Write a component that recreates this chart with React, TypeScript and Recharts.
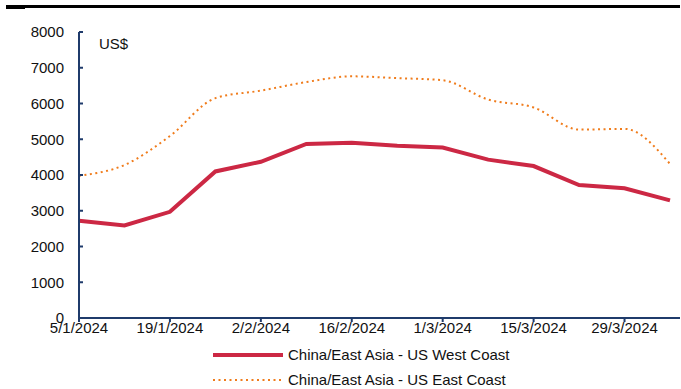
import React from 'react';
import { LineChart, Line, XAxis, YAxis, Legend } from 'recharts';

// weekly readings, Jan–Apr 2024
const weeks = [
    '5/1/2024', '12/1/2024', '19/1/2024', '26/1/2024', '2/2/2024', '9/2/2024', '16/2/2024',
    '23/2/2024', '1/3/2024', '8/3/2024', '15/3/2024', '22/3/2024', '29/3/2024', '5/4/2024',
];
const westCoast = [2720, 2590, 2970, 4100, 4370, 4870, 4900, 4820, 4770, 4430, 4250, 3720, 3630, 3290];
const eastCoast = [3980, 4280, 5090, 6150, 6360, 6600, 6760, 6710, 6650, 6110, 5890, 5270, 5290, 4310];
const yTicks = [0, 1000, 2000, 3000, 4000, 5000, 6000, 7000, 8000];

const WEST_NAME = 'China/East Asia - US West Coast';
const EAST_NAME = 'China/East Asia - US East Coast';

const FONT = '"Liberation Sans", Arial, sans-serif';
const AXIS = '#1f3b6b';
const RED = '#cc2844';
const ORANGE = '#f07c1c';

const data = weeks.map((w, i) => ({ week: w, west: westCoast[i], east: eastCoast[i] }));

// y labels sit left of the axis, tick marks point into the plot
const YTick = ({ x, y, payload }: any) => (
    <g>
        <text x={x} y={y} dy="0.35em" textAnchor="end" fontSize={15} fill="#111" fontFamily={FONT}>
            {payload.value}
        </text>
        <line x1={x + 15} x2={x + 19} y1={y} y2={y} stroke={AXIS} strokeWidth={2} />
    </g>
);

const LegendRows = () => (
    <div style={{ position: 'relative', width: 681, height: 46, fontFamily: FONT, fontSize: 15, color: '#111' }}>
        <svg width={72} height={46} style={{ position: 'absolute', left: 212, top: 0 }}>
            <line x1={1} x2={71} y1={12} y2={12} stroke={RED} strokeWidth={4} />
            <line x1={1} x2={71} y1={37} y2={37} stroke={ORANGE} strokeWidth={2} strokeDasharray="2 3.5" />
        </svg>
        <div style={{ position: 'absolute', left: 288, top: 3, whiteSpace: 'nowrap' }}>{WEST_NAME}</div>
        <div style={{ position: 'absolute', left: 288, top: 28, whiteSpace: 'nowrap' }}>{EAST_NAME}</div>
    </div>
);

export default function App() {
    return (
        <div style={{ position: 'fixed', left: 0, top: 0, width: 681, height: 389, background: '#fff', fontFamily: FONT }}>
            {/* heading rule */}
            <div style={{ position: 'absolute', left: 6, top: 5, width: 674, height: 2.5, background: '#000' }} />
            <div style={{ position: 'absolute', left: 6, top: 5, width: 19, height: 3.5, background: '#000' }} />
            <div style={{ position: 'absolute', left: 99, top: 35, fontSize: 15, color: '#111' }}>US$</div>
            <LineChart width={681} height={389} data={data} margin={{ top: 32, right: 1, left: 0, bottom: 0 }}>
                <XAxis
                    dataKey="week"
                    interval={1}
                    padding={{ left: 0, right: 10 }}
                    height={30}
                    tickSize={4}
                    tickMargin={0}
                    axisLine={{ stroke: AXIS, strokeWidth: 2 }}
                    tickLine={{ stroke: AXIS, strokeWidth: 2 }}
                    tick={{ fontSize: 15, fill: '#111', fontFamily: FONT }}
                />
                <YAxis
                    domain={[0, 8000]}
                    ticks={yTicks}
                    interval={0}
                    width={79}
                    tickSize={0}
                    tickMargin={15}
                    tickLine={false}
                    axisLine={{ stroke: AXIS, strokeWidth: 2 }}
                    tick={<YTick />}
                />
                <Legend verticalAlign="bottom" height={41} content={<LegendRows />} wrapperStyle={{ left: 0, top: 343, width: 681 }} />
                <Line
                    type="monotone"
                    dataKey="east"
                    name={EAST_NAME}
                    stroke={ORANGE}
                    strokeWidth={2}
                    strokeDasharray="2 3.5"
                    dot={false}
                    isAnimationActive={false}
                />
                <Line
                    type="linear"
                    dataKey="west"
                    name={WEST_NAME}
                    stroke={RED}
                    strokeWidth={4}
                    dot={false}
                    isAnimationActive={false}
                />
            </LineChart>
        </div>
    );
}
